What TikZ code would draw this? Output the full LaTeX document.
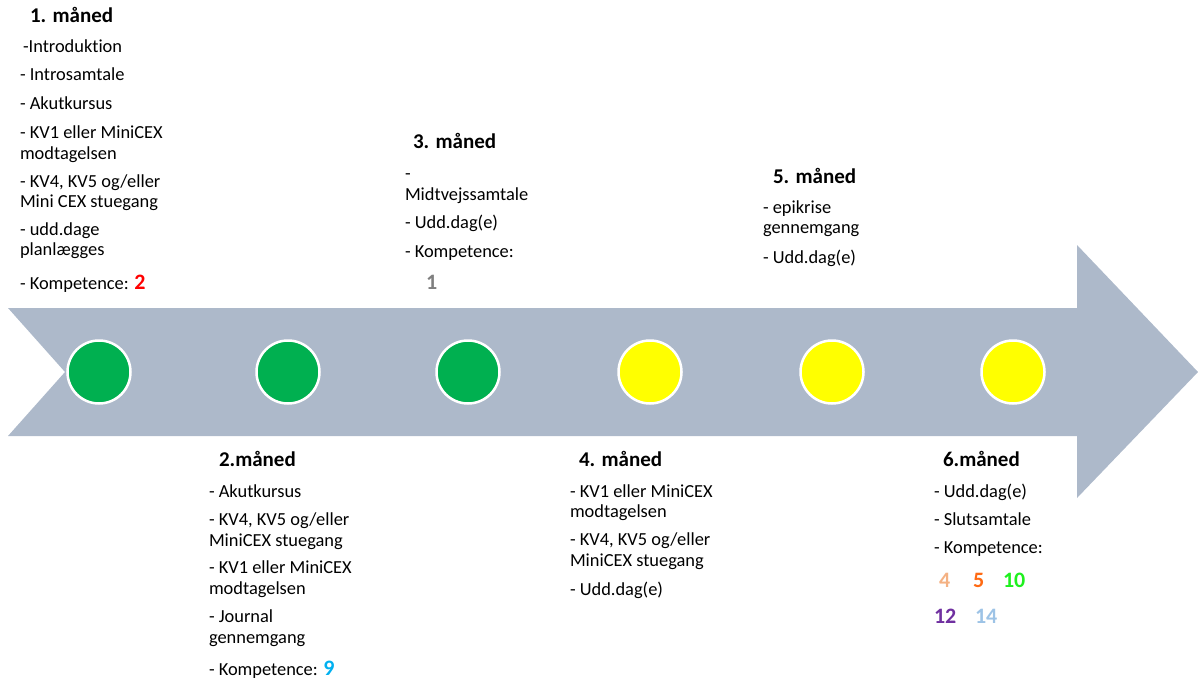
\documentclass[tikz,border=0pt]{standalone}
\usepackage{fontspec}
\setmainfont{Carlito}[Ligatures=NoCommon]
\definecolor{arrowgray}{HTML}{ADB9CA}
\definecolor{dotgreen}{HTML}{00B050}
\definecolor{dotyellow}{HTML}{FFFF00}
\definecolor{numred}{HTML}{FF0000}
\definecolor{numgray}{HTML}{7F7F7F}
\definecolor{numblue}{HTML}{00B0F0}
\definecolor{numpeach}{HTML}{F4B183}
\definecolor{numorange}{HTML}{FF6A13}
\definecolor{numgreen}{HTML}{1EF01E}
\definecolor{numpurple}{HTML}{7030A0}
\definecolor{numlblue}{HTML}{9DC3E6}
\begin{document}
\begin{tikzpicture}[x=1pt,y=-1pt,
  txt/.style={anchor=base west,inner sep=0pt,outer sep=0pt,font=\fontsize{18.4}{22}\selectfont,text=black},
  head/.style={anchor=base west,inner sep=0pt,outer sep=0pt,font=\fontsize{21}{25}\selectfont\bfseries,text=black},
  num/.style={anchor=base west,inner sep=0pt,outer sep=0pt,font=\fontsize{22}{25}\selectfont\bfseries},
  dot/.style={circle,minimum size=63pt,inner sep=0pt,draw=white,line width=2.5pt}]
\useasboundingbox (0,0) rectangle (1198,682);
% arrow
\fill[arrowgray] (8,308) -- (1077,308) -- (1077,245) -- (1198,372) -- (1077,498) -- (1077,436) -- (8,436) -- (65,372) -- cycle;
% dots
\node[dot,fill=dotgreen] (d1) at (99,372) {};
\node[dot,fill=dotgreen] (d2) at (288,372) {};
\node[dot,fill=dotgreen] (d3) at (468,372) {};
\node[dot,fill=dotyellow] (d4) at (650,372) {};
\node[dot,fill=dotyellow] (d5) at (832,372) {};
\node[dot,fill=dotyellow] (d6) at (1013,372) {};
% month 1
\node[head] (h1) at (30,23) {1. måned};
\node[txt] (a1) at (23,53) {-Introduktion};
\node[txt] (a2) at (20,81) {- Introsamtale};
\node[txt] (a3) at (20,110) {- Akutkursus};
\node[txt] (a4) at (20,138) {- KV1 eller MiniCEX};
\node[txt] (a5) at (20,159) {modtagelsen};
\node[txt] (a6) at (20,187) {- KV4, KV5 og/eller};
\node[txt] (a7) at (20,207) {Mini CEX stuegang};
\node[txt] (a8) at (20,235) {- udd.dage};
\node[txt] (a9) at (20,255) {planlægges};
\node[txt] (a10) at (20,289) {- Kompetence: \textcolor{numred}{\fontsize{22}{25}\selectfont\bfseries 2}};
% month 3
\node[head] (h3) at (413,148) {3. måned};
\node[txt] (c1) at (405,179) {-};
\node[txt] (c2) at (405,200) {Midtvejssamtale};
\node[txt] (c3) at (405,228) {- Udd.dag(e)};
\node[txt] (c4) at (405,257) {- Kompetence:};
\node[num,text=numgray] (c5) at (426,289) {1};
% month 5
\node[head] (h5) at (773,183) {5. måned};
\node[txt] (e1) at (763,213) {- epikrise};
\node[txt] (e2) at (763,233) {gennemgang};
\node[txt] (e3) at (763,263) {- Udd.dag(e)};
% month 2
\node[head] (h2) at (219,466) {2.måned};
\node[txt] (b1) at (209,497) {- Akutkursus};
\node[txt] (b2) at (209,525) {- KV4, KV5 og/eller};
\node[txt] (b3) at (209,546) {MiniCEX stuegang};
\node[txt] (b4) at (209,573) {- KV1 eller MiniCEX};
\node[txt] (b5) at (209,594) {modtagelsen};
\node[txt] (b6) at (209,622) {- Journal};
\node[txt] (b7) at (209,643) {gennemgang};
\node[txt] (b8) at (209,675) {- Kompetence: \textcolor{numblue}{\fontsize{22}{25}\selectfont\bfseries 9}};
% month 4
\node[head] (h4) at (579,466) {4. måned};
\node[txt] (f1) at (570,497) {- KV1 eller MiniCEX};
\node[txt] (f2) at (570,517) {modtagelsen};
\node[txt] (f3) at (570,545) {- KV4, KV5 og/eller};
\node[txt] (f4) at (570,566) {MiniCEX stuegang};
\node[txt] (f5) at (570,595) {- Udd.dag(e)};
% month 6
\node[head] (h6) at (943,466) {6.måned};
\node[txt] (g1) at (934,497) {- Udd.dag(e)};
\node[txt] (g2) at (934,525) {- Slutsamtale};
\node[txt] (g3) at (934,553) {- Kompetence:};
\node[num,text=numpeach] (g4) at (939,587) {4};
\node[num,text=numorange] (g5) at (973,587) {5};
\node[num,text=numgreen] (g6) at (1003,587) {10};
\node[num,text=numpurple] (g7) at (934,623) {12};
\node[num,text=numlblue] (g8) at (975,623) {14};
\end{tikzpicture}
\end{document}
